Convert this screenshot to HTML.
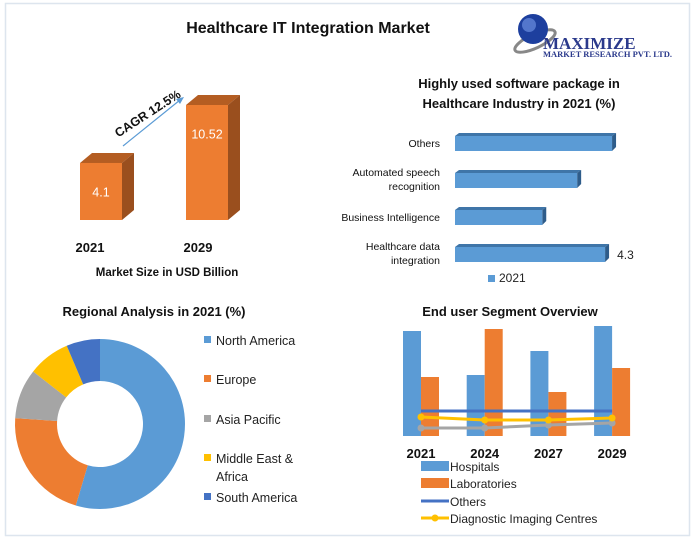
<!DOCTYPE html>
<html><head><meta charset="utf-8"><style>
body{margin:0;background:#fff;}
svg{display:block;font-family:"Liberation Sans",Calibri,sans-serif;}
.b{font-weight:bold;}
</style></head><body>
<svg id="s" width="695" height="543" xmlns="http://www.w3.org/2000/svg">
<rect x="5.5" y="3.5" width="684" height="532" fill="#fff" stroke="#dde5ee" stroke-width="1.5"/>
<text x="308" y="33" font-size="16" class="b" text-anchor="middle" fill="#111">Healthcare IT Integration Market</text>
<g>
<ellipse cx="535" cy="41" rx="22" ry="7" fill="none" stroke="#888" stroke-width="3" transform="rotate(-25 535 41)"/>
<circle cx="533" cy="29" r="15" fill="#1d3f9e"/><circle cx="529" cy="25" r="7" fill="#6b8fe0" opacity=".7"/>
<text x="543" y="49" font-family="Liberation Serif,serif" font-size="17" class="b" fill="#2b3a8c">MAXIMIZE</text>
<text x="543" y="57" font-family="Liberation Serif,serif" font-size="8.5" class="b" fill="#2b3a8c">MARKET RESEARCH PVT. LTD.</text>
</g>
<g id="mkt"></g>
<text x="150" y="117" font-size="12.5" class="b" transform="rotate(-33 150 117)" text-anchor="middle" fill="#111">CAGR 12.5%</text>
<line x1="123" y1="146" x2="180" y2="100" stroke="#5b9bd5" stroke-width="1.2"/>
<polygon points="184,97 176,99 180,104" fill="#5b9bd5"/>
<text x="167" y="276" font-size="11.5" class="b" text-anchor="middle" fill="#111">Market Size in USD Billion</text>
<text x="519" y="88" font-size="13" class="b" text-anchor="middle" fill="#111">Highly used software package in</text>
<text x="519" y="108" font-size="13" class="b" text-anchor="middle" fill="#111">Healthcare Industry in 2021 (%)</text>
<g id="sw"></g>
<rect x="488" y="275" width="7" height="7" fill="#5b9bd5"/>
<text x="499" y="282" font-size="12" fill="#222">2021</text>
<text x="154" y="316" font-size="13" class="b" text-anchor="middle" fill="#111">Regional Analysis in 2021 (%)</text>
<g id="pie"></g>
<g id="pleg"></g>
<text x="510" y="316" font-size="13" class="b" text-anchor="middle" fill="#111">End user Segment Overview</text>
<g id="eu"></g>
<g font-size="12" fill="#222">
<rect x="421" y="461" width="28" height="10" fill="#5b9bd5"/><text x="450" y="471">Hospitals</text>
<rect x="421" y="478" width="28" height="10" fill="#ed7d31"/><text x="450" y="488">Laboratories</text>
<line x1="421" y1="501" x2="449" y2="501" stroke="#4472c4" stroke-width="3"/><text x="450" y="506">Others</text>
<line x1="421" y1="518" x2="449" y2="518" stroke="#ffc000" stroke-width="3"/><circle cx="435" cy="518" r="3.5" fill="#ffc000"/><text x="450" y="523">Diagnostic Imaging Centres</text>
</g>
</svg>
<script>
const NS="http://www.w3.org/2000/svg";
const mktYears=["2021","2029"];
const mktValues=[4.1,10.52];
const swCats=["Others","Automated speech|recognition","Business Intelligence","Healthcare data|integration"];
const swValues=[4.5,3.5,2.5,4.3];
const regCats=["North America","Europe","Asia Pacific","Middle East &|Africa","South America"];
const regValues=[54.6,21.5,9.5,8,6.4];
const euYears=["2021","2024","2027","2029"];
const euHospitals=[105,61,85,110];
const euLabs=[59,107,44,68];
const euOthers=[25,25,25,25];
const euDiag=[19,16,16,18];
const euGray=[8,8,11,13];
function el(t,a,p){const e=document.createElementNS(NS,t);for(const k in a)e.setAttribute(k,a[k]);p.appendChild(e);return e;}
// market bars
const mk=document.getElementById('mkt');
const mx=i=>80+i*106, mh=v=>20+v*9.03, base=220;
mktValues.forEach((v,i)=>{const x=mx(i),h=mh(v),y=base-h;
const g=el('g',{},mk);


el('polygon',{points:`${x},${y} ${x+12},${y-10} ${x+54},${y-10} ${x+42},${y}`,fill:'#b45d22'},g);
el('polygon',{points:`${x+42},${y} ${x+54},${y-10} ${x+54},${base-10} ${x+42},${base}`,fill:'#9a4f1e'},g);
el('rect',{x:x,y:y,width:42,height:h,fill:'#ed7d31'},g);
const t=el('text',{x:x+21,y:y+h/2+(i?-24:5),'font-size':'12.5','text-anchor':'middle',fill:'#fff'},g);t.textContent=String(v);
const l=el('text',{x:x+10+(i?2:0),y:252,'font-size':'13','font-weight':'bold','text-anchor':'middle',fill:'#111'},mk);


l.textContent=mktYears[i];});
// software bars
const sw=document.getElementById('sw');
const sy=i=>136+i*37, sx=v=>v*34.9;
swValues.forEach((v,i)=>{const y=sy(i),w=sx(v),x=455;
const g=el('g',{},sw);


el('polygon',{points:`${x},${y} ${x+4},${y-3} ${x+w+4},${y-3} ${x+w},${y}`,fill:'#3f75a8'},g);
el('polygon',{points:`${x+w},${y} ${x+w+4},${y-3} ${x+w+4},${y+11} ${x+w},${y+15}`,fill:'#2e5c8a'},g);
el('rect',{x:x,y:y,width:w,height:15,fill:'#5b9bd5'},g);
const parts=swCats[i].split('|');
parts.forEach((p,j)=>{const t=el('text',{x:440,y:y+11+(parts.length>1?(j-0.5)*14-1:0),'font-size':'10.5','text-anchor':'end',fill:'#111'},sw);t.textContent=p;});
if(i==3){const t=el('text',{x:x+w+12,y:y+12,'font-size':'12',fill:'#222'},sw);t.textContent=String(v);}
});
// donut
const pie=document.getElementById('pie');
const cx=100,cy=424,R=85,r=43,cols=['#5b9bd5','#ed7d31','#a5a5a5','#ffc000','#4472c4'];
const tot=regValues.reduce((a,b)=>a+b,0);let a0=0;
regValues.forEach((v,i)=>{const a1=a0+v/tot*2*Math.PI;
const P=(rad,a)=>[cx+rad*Math.sin(a),cy-rad*Math.cos(a)];
const [x1,y1]=P(R,a0),[x2,y2]=P(R,a1),[x3,y3]=P(r,a1),[x4,y4]=P(r,a0);const lg=(a1-a0)>Math.PI?1:0;
const p=el('path',{d:`M${x1},${y1}A${R},${R} 0 ${lg} 1 ${x2},${y2}L${x3},${y3}A${r},${r} 0 ${lg} 0 ${x4},${y4}Z`,fill:cols[i]},pie);


a0=a1;});
const pl=document.getElementById('pleg');
const ly=[340,379,419,458,497];
regCats.forEach((c,i)=>{const g=el('g',{},pl);


el('rect',{x:204,y:ly[i]-4,width:7,height:7,fill:cols[i]},g);
c.split('|').forEach((p,j)=>{const t=el('text',{x:216,y:ly[i]+5+j*18,'font-size':'12.5',fill:'#222'},g);t.textContent=p;});});
// end user
const eu=document.getElementById('eu');
const ex=i=>421+i*63.7, ey=v=>436-v;
euYears.forEach((y,i)=>{const x=ex(i);
const h=el('rect',{x:x-18,y:ey(euHospitals[i]),width:18,height:euHospitals[i],fill:'#5b9bd5'},eu);


const l=el('rect',{x:x,y:ey(euLabs[i]),width:18,height:euLabs[i],fill:'#ed7d31'},eu);


const t=el('text',{x:x,y:458,'font-size':'13','font-weight':'bold','text-anchor':'middle',fill:'#111'},eu);t.textContent=y;});
function line(vals,col,dots,name){const pts=vals.map((v,i)=>ex(i)+','+ey(v)).join(' ');
const p=el('polyline',{points:pts,fill:'none',stroke:col,'stroke-width':3},eu);


if(dots)vals.forEach((v,i)=>el('circle',{cx:ex(i),cy:ey(v),r:3.5,fill:col},eu));}
line(euGray,'#a5a5a5',true,'gray-line');
line(euOthers,'#4472c4',false,'others-line');
line(euDiag,'#ffc000',true,'diagnostic-line');
</script>
</body></html>
